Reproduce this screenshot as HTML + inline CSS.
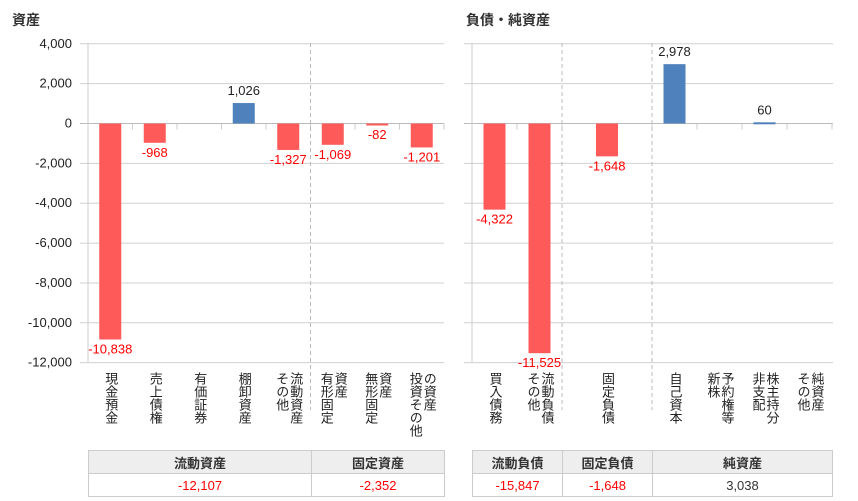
<!DOCTYPE html>
<html><head><meta charset="utf-8"><style>
body{margin:0;width:858px;height:501px;background:#fff;font-family:"Liberation Sans","Noto Sans CJK JP",sans-serif;overflow:hidden;position:relative}
.t{position:absolute;font-weight:bold;font-size:14px;color:#333}
.lab{position:absolute;top:372px;writing-mode:vertical-rl;font-size:13px;line-height:14px;color:#222;white-space:nowrap}
table{position:absolute;border-collapse:collapse;font-size:13px}
td{border:1px solid #ccc;text-align:center;height:22px;padding:0}
tr.h td{background:#eee;font-weight:bold;color:#333}
.neg{color:#f00}
</style></head><body>
<div class="t" style="left:12px;top:10px">資産</div>
<div class="t" style="left:466px;top:10px">負債・純資産</div>
<svg id="c" width="858" height="501" style="position:absolute;left:0;top:0" font-family="Liberation Sans, sans-serif" font-size="13"></svg>
<div id="labs"></div>
<table style="left:88px;top:450px;width:357px">
<tr class="h"><td style="width:222px">流動資産</td><td>固定資産</td></tr>
<tr><td class="neg">-12,107</td><td class="neg">-2,352</td></tr></table>
<table style="left:472px;top:450px;width:361px">
<tr class="h"><td style="width:89px">流動負債</td><td style="width:89px">固定負債</td><td>純資産</td></tr>
<tr><td class="neg">-15,847</td><td class="neg">-1,648</td><td style="color:#333">3,038</td></tr></table>
<script>
const yTicks=[4000,2000,0,-2000,-4000,-6000,-8000,-10000,-12000];
const leftCats=["現金預金","売上債権","有価証券","棚卸資産","流動資産|その他","資産|有形固定","資産|無形固定","の資産|投資その他"];
const leftVals=[-10838,-968,null,1026,-1327,-1069,-82,-1201];
const rightCats=["買入債務","流動負債|その他","固定負債","自己資本","予約権等|新株","株主持分|非支配","純資産|その他"];
const rightSlots=[0,1,2.5,4,5,6,7];
const rightVals=[-4322,-11525,-1648,2978,null,60,null];
const NS="http://www.w3.org/2000/svg";
const svg=document.getElementById('c');
const y=v=>123.5-v*0.01993;
function mk(t,a){const e=document.createElementNS(NS,t);for(const k in a)e.setAttribute(k,a[k]);svg.appendChild(e);return e;}
function fmt(v){return v.toLocaleString('en-US');}
function panel(x0,x1,axisX,cats,slots,vals,divs,name,showY){
  const slot=45*(name==='left'?44.5/45:1);
  yTicks.forEach(t=>{const l=mk('line',{x1:axisX-8,x2:x1,y1:y(t),y2:y(t),stroke:t===0?'#bbb':'#d0d0d0','stroke-width':1});
    
    if(showY){const tx=mk('text',{x:axisX-16,y:y(t)+4,'text-anchor':'end',fill:'#222'});tx.textContent=fmt(t);
      }});
  mk('line',{x1:axisX,x2:axisX,y1:43,y2:363,stroke:'#ccc'});
  for(let i=1;i<=8;i++){const xx=axisX+i*slot;if(xx<=x1+1)mk('line',{x1:xx,x2:xx,y1:y(0),y2:y(0)+6,stroke:'#ccc'});}
  divs.forEach(d=>{const dl=mk('line',{x1:axisX+d*slot,x2:axisX+d*slot,y1:43,y2:410,stroke:'#bbb','stroke-dasharray':'4,3'});
    });
  const labs=document.getElementById('labs');
  cats.forEach((c,i)=>{const cx=axisX+(slots[i]+0.5)*slot;const v=vals[i];
    if(v!==null){const top=Math.min(y(v),y(0)),h=Math.max(Math.abs(y(v)-y(0)),2);
      const r=mk('rect',{x:cx-11,y:top,width:22,height:h,fill:v<0?'#ff5a5a':'#4f81bd'});
      
      const tx=mk('text',{x:cx,y:v<0?y(v)+14:y(v)-8,'text-anchor':'middle',fill:v<0?'#f00':'#222'});tx.textContent=fmt(v);
      }
    const d=document.createElement('div');d.className='lab';
    
    d.innerHTML=c.split('|').join('<br>');labs.appendChild(d);
    const w=c.includes('|')?28:14;d.style.left=(cx-w/2)+'px';});
}
panel(80,444,88,leftCats,[0,1,2,3,4,5,6,7],leftVals,[5],'left',true);
panel(465,833,472,rightCats,rightSlots,rightVals,[2,4],'right',false);
</script>
</body></html>
